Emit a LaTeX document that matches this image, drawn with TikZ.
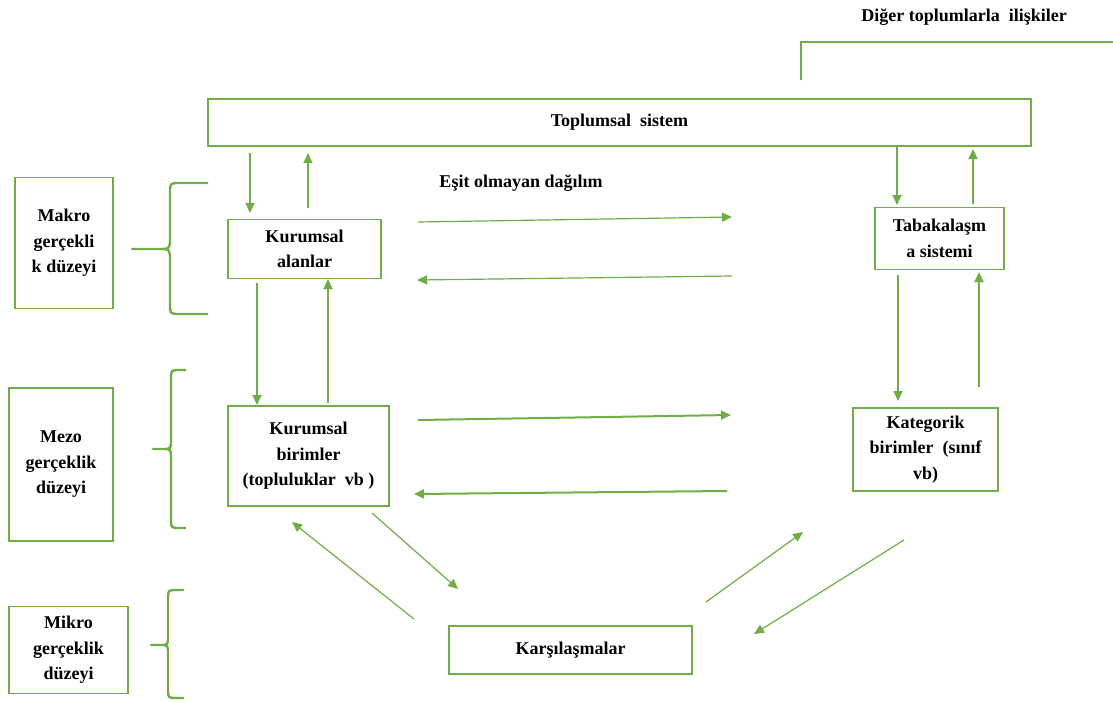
\documentclass[tikz,border=0pt]{standalone}
\usepackage{fontspec}
\setmainfont{Liberation Serif}
\usetikzlibrary{arrows.meta}
\definecolor{grn}{RGB}{112,173,71}
\tikzset{
  box/.style={draw=grn, line width=1.4pt, inner sep=0pt, align=center, font=\bfseries\fontsize{18}{25.5}\selectfont},
  lbl/.style={inner sep=0pt, align=center, font=\bfseries\fontsize{18}{25.5}\selectfont},
  thinarr/.style={draw=grn, line width=1.2pt, -{Triangle[length=10pt,width=9pt]}},
  thickarr/.style={draw=grn, line width=2pt, -{Triangle[length=10pt,width=9pt]}},
  brace/.style={draw=grn, line width=2.4pt, line join=round},
  plain/.style={draw=grn, line width=1.4pt}
}
\begin{document}
\begin{tikzpicture}[x=1pt,y=-1pt]
\useasboundingbox (0,0) rectangle (1113,702);
% Title at top right
\node[lbl] (diger) at (964,17) {Diğer toplumlarla\ \ ilişkiler};
\coordinate (dg1) at (801,80);
\coordinate (dg2) at (801,42);
\coordinate (dg3) at (1113,42);
\draw[plain] (dg1) -- (dg2) -- (dg3);

% Boxes
\node[box, minimum width=823pt, minimum height=47pt] (ts) at (619.5,122.5) {Toplumsal\ \ sistem};
\node[box, minimum width=153pt, minimum height=59pt] (ka) at (304.5,249) {Kurumsal\\alanlar};
\node[box, minimum width=161pt, minimum height=100pt] (kb) at (308.5,456) {Kurumsal\\birimler\\(topluluklar\ \ vb )};
\node[box, minimum width=129pt, minimum height=62pt] (tab) at (939.5,238.5) {Tabakalaşm\\a sistemi};
\node[box, minimum width=145pt, minimum height=83pt] (kat) at (925.5,449.5) {Kategorik\\birimler\ \ (sınıf\\vb)};
\node[box, minimum width=243pt, minimum height=48pt] (kar) at (570.5,650) {Karşılaşmalar};
\node[box, minimum width=98pt, minimum height=131pt] (makro) at (64,243) {Makro\\gerçekli\\k düzeyi};
\node[box, minimum width=104pt, minimum height=153pt] (mezo) at (61,464.5) {Mezo\\gerçeklik\\düzeyi};
\node[box, minimum width=119pt, minimum height=87pt] (mikro) at (68.5,650) {Mikro\\gerçeklik\\düzeyi};

\node[lbl] (esit) at (521,183) {Eşit olmayan dağılım};

% Braces
\draw[brace] (208,183) -- (180,183) .. controls (170,183) .. (170,193) -- (170,238)
  .. controls (170,249) .. (158,249) -- (132,249) -- (158,249)
  .. controls (170,249) .. (170,260) -- (170,304) .. controls (170,314) .. (180,314) -- (208,314);
\draw[brace] (186,370) -- (180,370) .. controls (171,370) .. (171,379) -- (171,439)
  .. controls (171,449) .. (163,449) -- (153,449) -- (163,449)
  .. controls (171,449) .. (171,459) -- (171,519) .. controls (171,528) .. (180,528) -- (186,528);
\draw[brace] (184,590) -- (177,590) .. controls (168,590) .. (168,599) -- (168,636)
  .. controls (168,645) .. (160,645) -- (151,645) -- (160,645)
  .. controls (168,645) .. (168,654) -- (168,689) .. controls (168,698) .. (177,698) -- (184,698);

% Coordinates for arrow ends
\coordinate (a1s) at (250,153);  \coordinate (a1e) at (250,213);
\coordinate (a2s) at (308,208);  \coordinate (a2e) at (308,153);
\coordinate (a3s) at (257,283);  \coordinate (a3e) at (257,405);
\coordinate (a4s) at (328,403);  \coordinate (a4e) at (328,279);
\coordinate (b1s) at (897,146);  \coordinate (b1e) at (897,205);
\coordinate (b2s) at (973,204);  \coordinate (b2e) at (973,149);
\coordinate (b3s) at (898,275);  \coordinate (b3e) at (898,401);
\coordinate (b4s) at (979,387);  \coordinate (b4e) at (979,272);
\coordinate (h1s) at (418,222);  \coordinate (h1e) at (732,217);
\coordinate (h2s) at (732,276);  \coordinate (h2e) at (417,280);
\coordinate (h3s) at (418,420);  \coordinate (h3e) at (731,415);
\coordinate (h4s) at (727,491);  \coordinate (h4e) at (414,494);
\coordinate (d1s) at (414,619);  \coordinate (d1e) at (292,522);
\coordinate (d2s) at (372,513);  \coordinate (d2e) at (458,589);
\coordinate (d3s) at (706,602);  \coordinate (d3e) at (803,532);
\coordinate (d4s) at (904,540);  \coordinate (d4e) at (754,634);

% Arrows
\draw[thinarr] (a1s) -- (a1e);
\draw[thinarr] (a2s) -- (a2e);
\draw[thickarr] (a3s) -- (a3e);
\draw[thickarr] (a4s) -- (a4e);
\draw[thickarr] (b1s) -- (b1e);
\draw[thickarr] (b2s) -- (b2e);
\draw[thickarr] (b3s) -- (b3e);
\draw[thickarr] (b4s) -- (b4e);
\draw[thinarr] (h1s) -- (h1e);
\draw[thinarr] (h2s) -- (h2e);
\draw[thickarr] (h3s) -- (h3e);
\draw[thickarr] (h4s) -- (h4e);
\draw[thinarr] (d1s) -- (d1e);
\draw[thinarr] (d2s) -- (d2e);
\draw[thinarr] (d3s) -- (d3e);
\draw[thinarr] (d4s) -- (d4e);
\end{tikzpicture}
\end{document}
